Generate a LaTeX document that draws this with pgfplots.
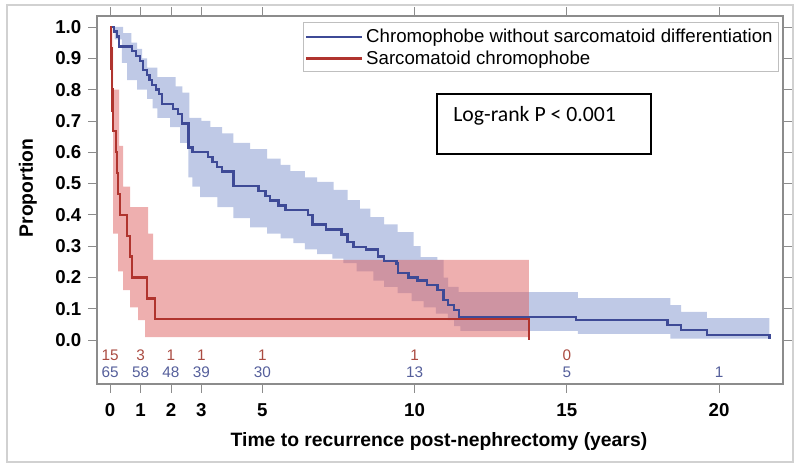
\documentclass[border=0pt]{standalone}
\usepackage{pgfplots}
\pgfplotsset{compat=1.18}
\usepgfplotslibrary{fillbetween}
\usepackage{fontspec}
\setmainfont{Liberation Sans}
\newfontfamily\carlito{Carlito}
\definecolor{bline}{RGB}{62,74,150}
\definecolor{rline}{RGB}{176,52,46}
\definecolor{bband}{RGB}{112,135,200}
\definecolor{rband}{RGB}{222,95,95}
\definecolor{bnum}{RGB}{85,95,155}
\definecolor{rnum}{RGB}{170,75,65}
\begin{document}
\begin{tikzpicture}
\path (0pt,0pt) rectangle (600pt,351pt);
\draw[black!18, line width=1pt] (5.25pt,4.5pt) rectangle (594.75pt,347.25pt);
\begin{axis}[
  at={(72.75pt,63pt)}, anchor=south west,
  scale only axis, width=514.5pt, height=276pt,
  xmin=-0.43, xmax=22.1, ymin=-0.14, ymax=1.035,
  xtick={0,1,2,3,5,10,15,20},
  ytick={0,0.1,0.2,0.3,0.4,0.5,0.6,0.7,0.8,0.9,1.0},
  yticklabel style={/pgf/number format/fixed, /pgf/number format/fixed zerofill, /pgf/number format/precision=1, xshift=-1.75pt},
  /pgf/number format/assume math mode=true,
  tick label style={font=\fontsize{14}{14}\selectfont\bfseries},
  xticklabel style={anchor=center, yshift=-13pt},
  tick align=outside, major tick length=6.5pt,
  tick style={draw=black!45, line width=0.6pt},
  axis line style={draw=black!45, line width=0.8pt},
  xlabel={\bfseries Time to recurrence post-nephrectomy (years)},
  ylabel={\bfseries Proportion},
  label style={font=\fontsize{14.5}{16}\selectfont},
  xlabel style={at={(axis description cs:0.4985,-0.157)}, anchor=center},
  ylabel style={at={(axis description cs:-0.1006,0.533)}, anchor=center},
  legend style={at={(0.993,0.9715)}, anchor=north east, draw=none, fill=none,
    font=\fontsize{14}{15.5}\selectfont, inner xsep=2pt, inner ysep=0pt,
    row sep=0.2pt, cells={anchor=west}},
  legend image code/.code={\draw[#1] (0pt,0pt) -- (42pt,0pt);},
  clip=false,
]
% blue confidence band
\addplot[const plot, draw=none, name path=bu, forget plot] coordinates {
(0,1.0)(0.43,0.98)(0.7,0.95)(0.89,0.93)(1.05,0.9)(1.22,0.87)(1.55,0.84)(2.15,0.81)(2.37,0.79)(2.6,0.71)(3.0,0.70)(3.29,0.68)(3.68,0.66)(4.05,0.63)(4.6,0.61)(5.16,0.58)(5.6,0.56)(5.92,0.54)(6.4,0.52)(6.8,0.505)(7.34,0.48)(7.8,0.447)(8.2,0.42)(8.55,0.393)(9.0,0.37)(9.44,0.345)(9.97,0.30)(10.2,0.265)(10.75,0.256)(10.95,0.2)(11.1,0.17)(11.45,0.153)(15.36,0.134)(18.4,0.112)(18.75,0.09)(19.6,0.07)(21.65,0.07)};
\addplot[const plot, draw=none, name path=bl, forget plot] coordinates {
(0,1.0)(0.15,0.96)(0.39,0.885)(0.56,0.83)(0.89,0.80)(1.22,0.77)(1.4,0.74)(1.55,0.71)(1.97,0.68)(2.3,0.63)(2.57,0.52)(2.7,0.49)(2.96,0.457)(3.52,0.425)(4.05,0.39)(4.6,0.36)(5.16,0.34)(5.6,0.325)(6.02,0.31)(6.4,0.29)(6.8,0.275)(7.3,0.26)(7.66,0.246)(8.1,0.22)(8.65,0.19)(9.0,0.17)(9.44,0.15)(9.9,0.125)(10.3,0.105)(10.7,0.085)(11.09,0.064)(11.3,0.045)(11.5,0.03)(15.36,0.02)(18.4,0.005)(21.65,0.003)};
\addplot[bband, fill opacity=0.45, draw=none, forget plot] fill between[of=bu and bl];
% red confidence band
\addplot[const plot, draw=none, name path=ru, forget plot] coordinates {
(0,1.0)(0.08,0.8)(0.3,0.62)(0.43,0.49)(0.66,0.425)(1.25,0.34)(1.41,0.256)(13.75,0.256)};
\addplot[const plot, draw=none, name path=rl, forget plot] coordinates {
(0,1.0)(0.1,0.34)(0.26,0.22)(0.43,0.16)(0.66,0.105)(0.92,0.064)(1.15,0.01)(13.75,0.006)};
\addplot[rband, fill opacity=0.5, draw=none, forget plot] fill between[of=ru and rl];
% survival curves
\addplot[const plot, bline, line width=1.8pt] coordinates {
(0,1.0)(0.12,0.985)(0.22,0.969)(0.3,0.938)(0.72,0.923)(0.85,0.908)(0.99,0.892)(1.09,0.862)(1.22,0.846)(1.3,0.831)(1.38,0.815)(1.5,0.8)(1.6,0.785)(1.71,0.754)(2.07,0.738)(2.24,0.723)(2.37,0.692)(2.57,0.615)(2.7,0.6)(3.22,0.584)(3.36,0.569)(3.52,0.553)(3.68,0.538)(4.05,0.492)(4.87,0.477)(5.1,0.461)(5.26,0.446)(5.53,0.43)(5.76,0.415)(6.5,0.4)(6.65,0.369)(7.1,0.353)(7.6,0.337)(7.8,0.314)(8.0,0.298)(8.4,0.29)(8.8,0.267)(9.0,0.252)(9.4,0.245)(9.45,0.214)(9.8,0.2)(10.1,0.19)(10.4,0.176)(10.75,0.16)(10.95,0.128)(11.1,0.112)(11.3,0.096)(11.45,0.073)(15.3,0.064)(18.3,0.048)(18.75,0.032)(19.6,0.016)(21.65,0.003)};
\addlegendentry{Chromophobe without sarcomatoid differentiation}
\addplot[const plot, rline, line width=1.8pt] coordinates {
(0,1.0)(0.02,0.933)(0.04,0.867)(0.06,0.8)(0.08,0.733)(0.1,0.667)(0.2,0.6)(0.23,0.533)(0.26,0.467)(0.33,0.4)(0.56,0.333)(0.66,0.267)(0.72,0.2)(1.22,0.133)(1.48,0.067)(13.75,0.067)(13.75,0.0)};
\addlegendentry{Sarcomatoid chromophobe}
% legend frame
\draw[black!25, line width=0.6pt] (axis description cs:0.3003,0.9837) rectangle (axis description cs:0.9927,0.8492);
% numbers at risk
\node[text=rnum, font=\fontsize{11.5}{12}\selectfont] at (axis cs:0,-0.048) {15};
\node[text=rnum, font=\fontsize{11.5}{12}\selectfont] at (axis cs:1,-0.048) {3};
\node[text=rnum, font=\fontsize{11.5}{12}\selectfont] at (axis cs:2,-0.048) {1};
\node[text=rnum, font=\fontsize{11.5}{12}\selectfont] at (axis cs:3,-0.048) {1};
\node[text=rnum, font=\fontsize{11.5}{12}\selectfont] at (axis cs:5,-0.048) {1};
\node[text=rnum, font=\fontsize{11.5}{12}\selectfont] at (axis cs:10,-0.048) {1};
\node[text=rnum, font=\fontsize{11.5}{12}\selectfont] at (axis cs:15,-0.048) {0};
\node[text=bnum, font=\fontsize{11.5}{12}\selectfont] at (axis cs:0,-0.102) {65};
\node[text=bnum, font=\fontsize{11.5}{12}\selectfont] at (axis cs:1,-0.102) {58};
\node[text=bnum, font=\fontsize{11.5}{12}\selectfont] at (axis cs:2,-0.102) {48};
\node[text=bnum, font=\fontsize{11.5}{12}\selectfont] at (axis cs:3,-0.102) {39};
\node[text=bnum, font=\fontsize{11.5}{12}\selectfont] at (axis cs:5,-0.102) {30};
\node[text=bnum, font=\fontsize{11.5}{12}\selectfont] at (axis cs:10,-0.102) {13};
\node[text=bnum, font=\fontsize{11.5}{12}\selectfont] at (axis cs:15,-0.102) {5};
\node[text=bnum, font=\fontsize{11.5}{12}\selectfont] at (axis cs:20,-0.102) {1};
% log-rank box
\draw[black, line width=0.8pt] (axis description cs:0.4956,0.788) rectangle (axis description cs:0.8076,0.625);
\node[anchor=base west, inner sep=0pt, font=\carlito\fontsize{16.3}{17}\selectfont] at (axis description cs:0.519,0.7128) {Log-rank P < 0.001};
\end{axis}
\end{tikzpicture}
\end{document}
